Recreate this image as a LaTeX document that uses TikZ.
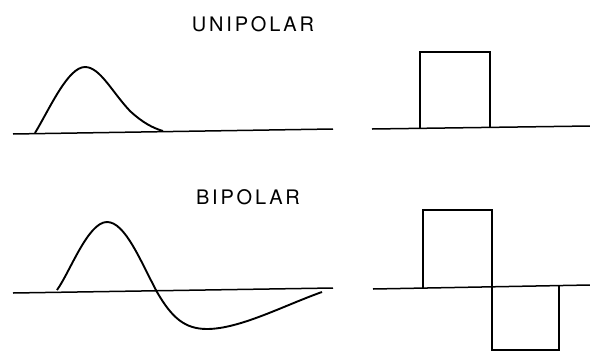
\documentclass[tikz,border=0pt]{standalone}
\usepackage{fontspec}
\setmainfont{TeX Gyre Heros}[LetterSpace=14]
\begin{document}
\begin{tikzpicture}[x=1pt,y=-1pt,
  wave/.style={line width=1.9pt,line join=miter},
  axis/.style={line width=1.5pt},
  lbl/.style={font=\fontsize{20}{22}\selectfont,inner sep=0pt,anchor=center}]
\useasboundingbox (0,0) rectangle (590,354);
% labels
\node[lbl] (uni) at (253,24) {UNIPOLAR};
\node[lbl] (bi) at (248,197) {BIPOLAR};
% unipolar analog
\coordinate (ua1) at (13,134); \coordinate (ua2) at (333,129);
\draw[axis] (ua1) -- (ua2);
\coordinate (up0) at (35,133); \coordinate (upk) at (85,67); \coordinate (up1) at (163,131);
\draw[wave] (up0) .. controls (50,108) and (68,67) .. (upk)
  .. controls (100,67) and (112,92) .. (130,111)
  .. controls (143,123) and (153,128) .. (up1);
% unipolar digital
\coordinate (ud1) at (372,129); \coordinate (ud2) at (590,126);
\draw[axis] (ud1) -- (ud2);
\draw[wave] (420,128) -- (420,52) -- (490,52) -- (490,127);
% bipolar analog
\coordinate (ba1) at (13,293); \coordinate (ba2) at (333,288);
\draw[axis] (ba1) -- (ba2);
\draw[wave] (57,290) .. controls (70,272) and (88,222) .. (107,222)
  .. controls (125,222) and (140,260) .. (157,292)
  .. controls (172,318) and (185,329) .. (207,329)
  .. controls (240,329) and (285,305) .. (322,292);
% bipolar digital
\coordinate (bd1) at (373,289); \coordinate (bd2) at (590,285);
\draw[axis] (bd1) -- (bd2);
\draw[wave] (423,288) -- (423,210) -- (492,210) -- (492,350) -- (559,350) -- (559,286);
\end{tikzpicture}
\end{document}
